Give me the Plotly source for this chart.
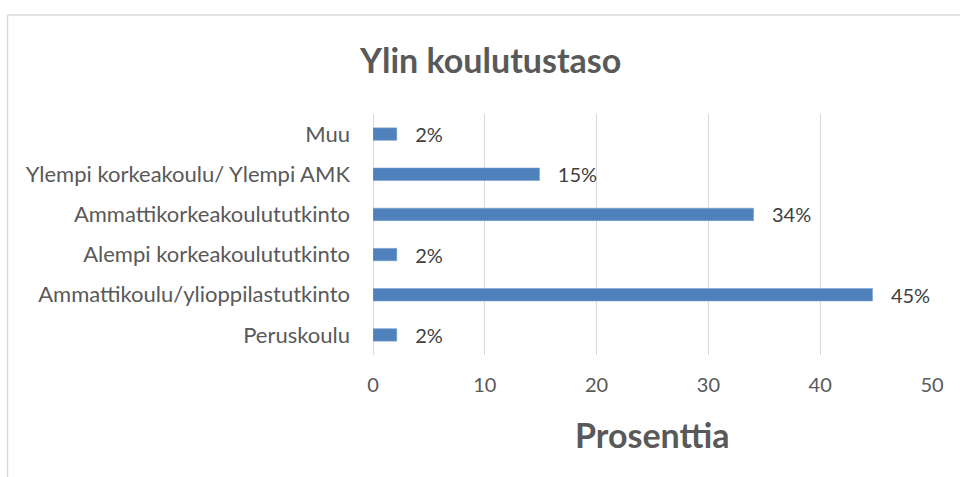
import plotly.graph_objects as go

categories = ["Peruskoulu", "Ammattikoulu/ylioppilastutkinto", "Alempi korkeakoulututkinto",
              "Ammattikorkeakoulututkinto", "Ylempi korkeakoulu/ Ylempi AMK", "Muu"]
values = [2.13, 44.68, 2.13, 34.04, 14.89, 2.13]
x_ticks = [0, 10, 20, 30, 40, 50]

title_text = "Ylin koulutustaso"
x_title = "Prosenttia"

FONT = "Lato, Carlito, Calibri, sans-serif"

L, R, T, B = 373, 28, 114, 122
W, H = 960, 477
pw, ph = W - L - R, H - T - B

def px_to_paper_x(px):
    return (px - L) / pw

def px_to_paper_y(py):
    return (H - B - py) / ph

fig = go.Figure(go.Bar(
    x=values, y=categories, orientation="h",
    marker=dict(color="#4F81BD", line=dict(color="#7EA3D0", width=0.6)),
    text=["&nbsp;&nbsp;&nbsp;" + f"{v:.0f}%" for v in values], textposition="outside",
    textfont=dict(family=FONT, size=20, color="#404040"),
    cliponaxis=False, constraintext="none",
))

fig.update_layout(
    width=W, height=H,
    margin=dict(l=L, r=R, t=T, b=B),
    plot_bgcolor="white", paper_bgcolor="white",
    bargap=0.69,
    showlegend=False,
    font=dict(family=FONT, color="#595959"),
    xaxis=dict(range=[0, 50], tickvals=x_ticks, showgrid=True, gridcolor="#D9D9D9", gridwidth=1,
               zeroline=True, zerolinecolor="#D9D9D9", zerolinewidth=1,
               tickfont=dict(family=FONT, size=20, color="#595959"), ticks="", ticklen=0,
               ticklabelstandoff=16, showline=False),
    yaxis=dict(showgrid=False, ticks="", tickfont=dict(family=FONT, size=22, color="#595959"),
               ticklabelstandoff=22, showline=False),
    shapes=[
        dict(type="line", xref="paper", yref="paper",
             x0=px_to_paper_x(7.5), x1=px_to_paper_x(962), y0=px_to_paper_y(15), y1=px_to_paper_y(15),
             line=dict(color="#D9D9D9", width=1.5)),
        dict(type="line", xref="paper", yref="paper",
             x0=px_to_paper_x(7.5), x1=px_to_paper_x(7.5), y0=px_to_paper_y(15), y1=px_to_paper_y(480),
             line=dict(color="#D9D9D9", width=1.5)),
    ],
    annotations=[
        dict(text=f"<b>{title_text}</b>", xref="paper", yref="paper",
             x=px_to_paper_x(490), y=px_to_paper_y(60), xanchor="center", yanchor="middle",
             showarrow=False, font=dict(family=FONT, size=34, color="#595959")),
        dict(text=f"<b>{x_title}</b>", xref="paper", yref="paper",
             x=px_to_paper_x(652), y=px_to_paper_y(434), xanchor="center", yanchor="middle",
             showarrow=False, font=dict(family=FONT, size=34, color="#595959")),
    ],
)

fig.write_html("out.html", config={"displayModeBar": False})
with open("out.html", encoding="utf-8") as f:
    html = f.read()
html = html.replace(
    "<body>",
    '<body style="margin:0;overflow:hidden"><style>text{font-variant-ligatures:none;}</style>',
    1,
)
with open("out.html", "w", encoding="utf-8") as f:
    f.write(html)
